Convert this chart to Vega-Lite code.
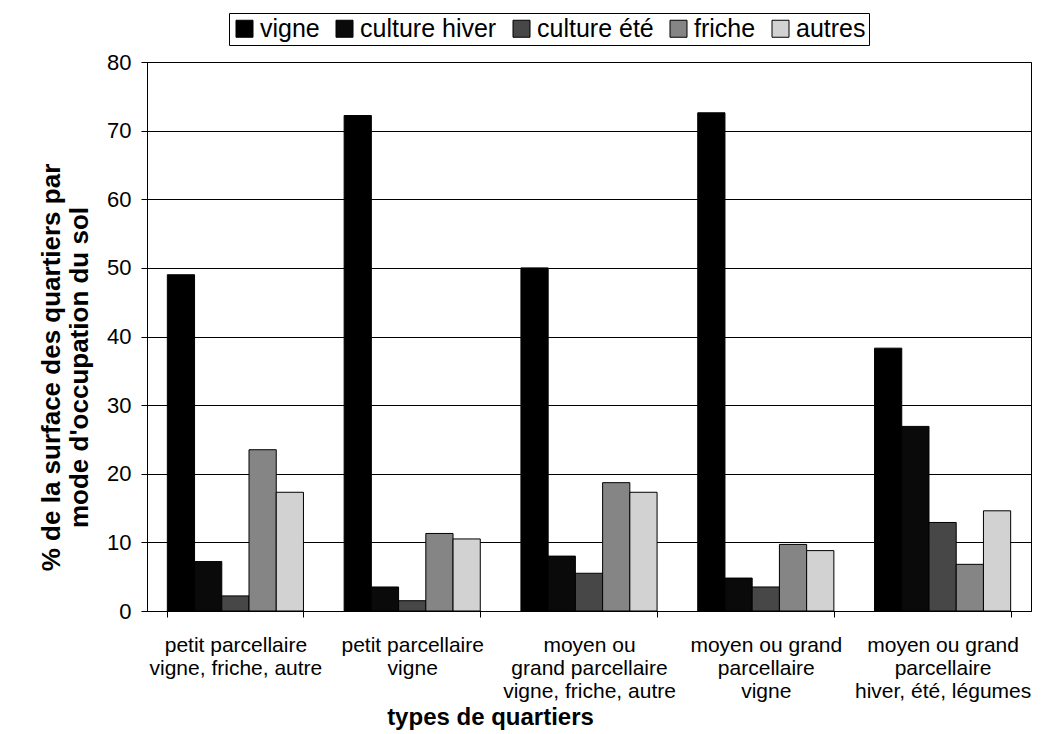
{
  "$schema": "https://vega.github.io/schema/vega-lite/v6.json",
  "width": 884,
  "height": 549,
  "autosize": {"type": "none"},
  "padding": {"left": 147, "top": 62, "right": 25, "bottom": 123},
  "background": "white",
  "config": {
    "font": "Liberation Sans",
    "view": {"stroke": "black", "strokeWidth": 1},
    "axis": {"labelColor": "black", "titleColor": "black", "domainColor": "black", "tickColor": "black"}
  },
  "data": {
    "values": [
      {"quartier": "petit parcellaire\nvigne, friche, autre", "mode": "vigne", "pct": 49.0},
      {"quartier": "petit parcellaire\nvigne, friche, autre", "mode": "culture hiver", "pct": 7.2},
      {"quartier": "petit parcellaire\nvigne, friche, autre", "mode": "culture été", "pct": 2.2},
      {"quartier": "petit parcellaire\nvigne, friche, autre", "mode": "friche", "pct": 23.5},
      {"quartier": "petit parcellaire\nvigne, friche, autre", "mode": "autres", "pct": 17.3},
      {"quartier": "petit parcellaire\nvigne", "mode": "vigne", "pct": 72.2},
      {"quartier": "petit parcellaire\nvigne", "mode": "culture hiver", "pct": 3.5},
      {"quartier": "petit parcellaire\nvigne", "mode": "culture été", "pct": 1.5},
      {"quartier": "petit parcellaire\nvigne", "mode": "friche", "pct": 11.3},
      {"quartier": "petit parcellaire\nvigne", "mode": "autres", "pct": 10.5},
      {"quartier": "moyen ou\ngrand parcellaire\nvigne, friche, autre", "mode": "vigne", "pct": 50.0},
      {"quartier": "moyen ou\ngrand parcellaire\nvigne, friche, autre", "mode": "culture hiver", "pct": 8.0},
      {"quartier": "moyen ou\ngrand parcellaire\nvigne, friche, autre", "mode": "culture été", "pct": 5.5},
      {"quartier": "moyen ou\ngrand parcellaire\nvigne, friche, autre", "mode": "friche", "pct": 18.7},
      {"quartier": "moyen ou\ngrand parcellaire\nvigne, friche, autre", "mode": "autres", "pct": 17.3},
      {"quartier": "moyen ou grand\nparcellaire\nvigne", "mode": "vigne", "pct": 72.6},
      {"quartier": "moyen ou grand\nparcellaire\nvigne", "mode": "culture hiver", "pct": 4.8},
      {"quartier": "moyen ou grand\nparcellaire\nvigne", "mode": "culture été", "pct": 3.5},
      {"quartier": "moyen ou grand\nparcellaire\nvigne", "mode": "friche", "pct": 9.7},
      {"quartier": "moyen ou grand\nparcellaire\nvigne", "mode": "autres", "pct": 8.8},
      {"quartier": "moyen ou grand\nparcellaire\nhiver, été, légumes", "mode": "vigne", "pct": 38.3},
      {"quartier": "moyen ou grand\nparcellaire\nhiver, été, légumes", "mode": "culture hiver", "pct": 26.9},
      {"quartier": "moyen ou grand\nparcellaire\nhiver, été, légumes", "mode": "culture été", "pct": 12.9},
      {"quartier": "moyen ou grand\nparcellaire\nhiver, été, légumes", "mode": "friche", "pct": 6.8},
      {"quartier": "moyen ou grand\nparcellaire\nhiver, été, légumes", "mode": "autres", "pct": 14.6}
    ]
  },
  "mark": {"type": "bar", "stroke": "black", "strokeWidth": 1},
  "encoding": {
    "x": {
      "field": "quartier",
      "type": "nominal",
      "sort": null,
      "scale": {"paddingInner": 0.23, "paddingOuter": 0.115},
      "axis": {
        "title": "types de quartiers",
        "titleFontSize": 24,
        "titleFontWeight": "bold",
        "titlePadding": 4,
        "titleX": 343,
        "labelAngle": 0,
        "labelFontSize": 21,
        "labelLineHeight": 23,
        "labelPadding": 17,
        "labelExpr": "split(datum.label, '\\n')",
        "tickBand": "extent",
        "tickSize": 6,
        "domain": true
      }
    },
    "xOffset": {"field": "mode", "type": "nominal", "sort": ["vigne", "culture hiver", "culture été", "friche", "autres"], "scale": {"paddingInner": 0, "paddingOuter": 0}},
    "y": {
      "field": "pct",
      "type": "quantitative",
      "scale": {"domain": [0, 80]},
      "axis": {
        "title": ["% de la surface des quartiers par", "mode d'occupation du sol"],
        "titleFontSize": 26,
        "titleFontWeight": "bold",
        "titlePadding": 14,
        "titleLineHeight": 28,
        "titleY": 305,
        "values": [0, 10, 20, 30, 40, 50, 60, 70, 80],
        "labelFontSize": 22,
        "labelPadding": 10,
        "tickSize": 6,
        "grid": true,
        "gridColor": "black",
        "gridOpacity": 1,
        "gridWidth": 1
      }
    },
    "color": {
      "field": "mode",
      "type": "nominal",
      "sort": ["vigne", "culture hiver", "culture été", "friche", "autres"],
      "scale": {"domain": ["vigne", "culture hiver", "culture été", "friche", "autres"], "range": ["#000000", "#0a0a0a", "#474747", "#858585", "#d2d2d2"]},
      "legend": {
        "title": null,
        "orient": "none",
        "legendX": 82,
        "legendY": -49,
        "direction": "horizontal",
        "strokeColor": "black",
        "fillColor": "white",
        "padding": 3,
        "symbolType": "square",
        "symbolSize": 289,
        "symbolStrokeColor": "black",
        "symbolStrokeWidth": 1,
        "symbolOpacity": 1,
        "labelFontSize": 25,
        "labelColor": "black",
        "labelOffset": 3,
        "columnPadding": 12
      }
    }
  }
}
